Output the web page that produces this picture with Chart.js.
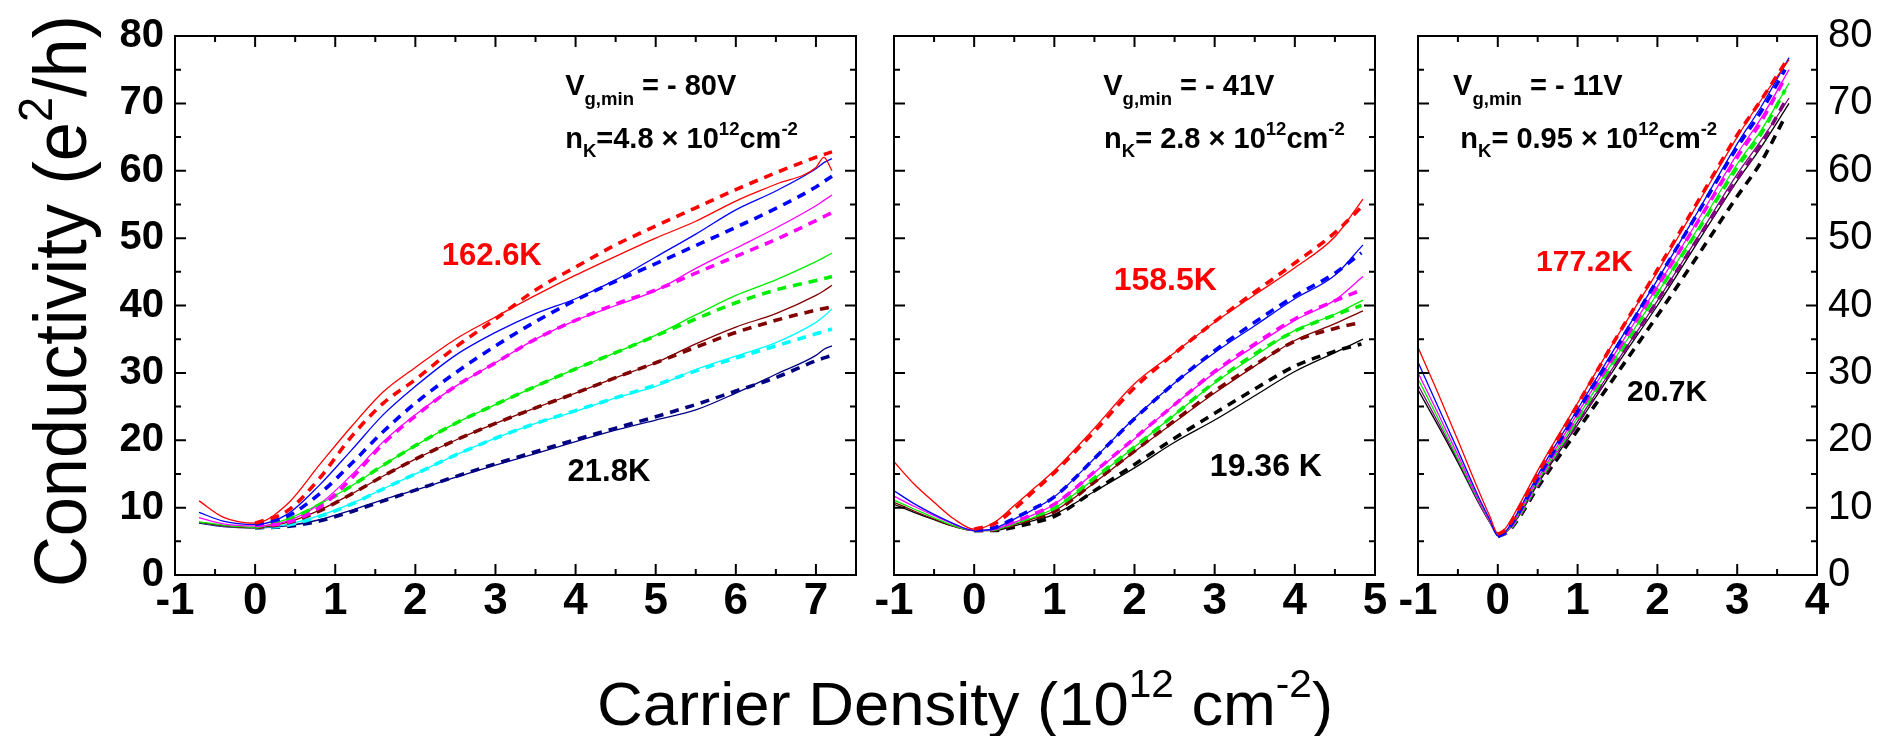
<!DOCTYPE html>
<html>
<head>
<meta charset="utf-8">
<script src="https://cdn.jsdelivr.net/npm/chart.js@4.4.1/dist/chart.umd.min.js"></script>
<style>
  html, body { margin: 0; background: #fff; overflow: hidden; }
  canvas { position: absolute; left: 0; top: 0; }
</style>
</head>
<body>
<canvas id="chart1" width="1892" height="736"></canvas>
<canvas id="chart2" width="1892" height="736"></canvas>
<canvas id="chart3" width="1892" height="736"></canvas>
<script>
// ---- panel 1 (Vg,min = -80V) ----
const xs1 = [-0.7, -0.4, 0, 0.4, 0.8, 1.2, 1.6, 2, 2.5, 3, 3.5, 4, 4.5, 5, 5.5, 6, 6.5, 7, 7.1, 7.2];
const xf1 = [0, 0.4, 0.8, 1.2, 1.6, 2, 2.5, 3, 3.5, 4, 4.5, 5, 5.5, 6, 6.5, 7, 7.2];
const red1 = [11.0, 8.6, 7.7, 10.5, 16.3, 22.0, 27.2, 30.8, 35.0, 38.3, 41.5, 44.5, 47.3, 50.0, 52.5, 55.5, 58.0, 60.5, 62.0, 60.0];
const red1Fit = [7.7, 9.5, 14.3, 20.5, 25.5, 29.0, 33.8, 38.0, 42.3, 45.7, 49.0, 51.8, 54.5, 57.2, 59.7, 62.0, 62.8];
const blue1 = [9.3, 8.0, 7.5, 9.0, 13.3, 18.5, 23.8, 28.0, 32.6, 36.0, 38.8, 41.0, 43.8, 47.2, 50.6, 54.2, 57.0, 60.3, 61.2, 61.8];
const blue1Fit = [7.5, 8.7, 12.0, 16.5, 21.3, 25.5, 30.0, 34.0, 37.6, 40.8, 43.6, 46.2, 48.9, 51.6, 54.4, 57.6, 59.2];
const mag1 = [8.5, 7.6, 7.3, 8.0, 10.5, 14.8, 19.8, 23.8, 28.0, 31.5, 35.0, 37.8, 40.0, 42.2, 45.5, 48.5, 51.5, 54.8, 55.6, 56.4];
const mag1Fit = [7.3, 7.8, 10.0, 14.3, 19.5, 23.6, 28.0, 31.5, 35.0, 37.8, 40.2, 42.3, 44.8, 47.3, 49.8, 52.6, 53.8];
const green1 = [7.9, 7.4, 7.1, 8.3, 10.5, 13.2, 16.3, 19.2, 22.5, 25.3, 28.0, 30.6, 33.0, 35.6, 38.6, 41.5, 43.8, 46.5, 47.1, 47.8];
const green1Fit = [7.1, 8.2, 10.4, 13.2, 16.3, 19.2, 22.5, 25.3, 28.0, 30.6, 33.0, 35.5, 38.0, 40.4, 42.3, 43.7, 44.3];
const brown1 = [7.8, 7.3, 7.0, 7.8, 9.6, 12.0, 14.7, 17.2, 20.0, 22.5, 24.8, 27.0, 29.3, 31.5, 34.3, 36.8, 38.8, 41.5, 42.2, 43.0];
const brown1Fit = [7.0, 7.7, 9.5, 12.0, 14.7, 17.2, 20.0, 22.5, 24.8, 27.0, 29.3, 31.5, 33.8, 36.0, 37.8, 39.3, 39.8];
const cyan1 = [7.8, 7.3, 7.0, 7.5, 8.8, 10.6, 12.8, 15.0, 17.8, 20.3, 22.5, 24.3, 26.3, 28.0, 30.5, 32.5, 34.5, 37.5, 38.4, 39.5];
const cyan1Fit = [7.0, 7.4, 8.7, 10.5, 12.8, 15.0, 17.8, 20.3, 22.5, 24.4, 26.3, 28.2, 30.3, 32.2, 34.0, 35.8, 36.5];
const navy1 = [7.7, 7.2, 7.0, 7.3, 8.2, 9.6, 11.2, 12.6, 14.5, 16.3, 18.0, 19.8, 21.5, 23.0, 24.5, 27.0, 29.8, 32.6, 33.5, 34.0];
const navy1Fit = [7.0, 7.2, 8.0, 9.4, 11.0, 12.6, 14.6, 16.5, 18.3, 20.1, 21.8, 23.5, 25.3, 27.3, 29.3, 31.8, 32.6];

// ---- panel 2 (Vg,min = -41V) ----
const xs2 = [-1, -0.75, -0.5, -0.25, 0, 0.25, 0.5, 0.75, 1, 1.5, 2, 2.5, 3, 3.5, 4, 4.5, 4.85];
const xf2 = [0, 0.25, 0.5, 0.75, 1, 1.5, 2, 2.5, 3, 3.5, 4, 4.5, 4.83];
const red2 = [16.8, 13.5, 10.8, 8.3, 6.8, 7.8, 10.3, 12.9, 15.5, 21.8, 28.4, 33.0, 37.5, 41.6, 45.6, 50.2, 55.8];
const red2Fit = [6.8, 7.6, 9.8, 12.5, 15.2, 21.3, 27.8, 32.9, 37.6, 42.0, 46.3, 50.8, 54.6];
const blue2 = [12.5, 10.6, 9.0, 7.6, 6.6, 6.9, 8.3, 9.8, 11.6, 17.3, 23.3, 28.5, 33.0, 37.0, 41.0, 44.5, 49.0];
const blue2Fit = [6.6, 7.0, 8.4, 9.9, 11.6, 17.3, 23.2, 28.5, 33.3, 37.5, 41.4, 44.8, 47.8];
const mag2 = [11.7, 10.2, 8.8, 7.5, 6.6, 6.8, 7.8, 9.0, 10.5, 15.2, 20.2, 25.3, 30.0, 34.0, 37.8, 40.8, 44.3];
const mag2Fit = [6.6, 6.9, 7.9, 9.1, 10.5, 15.3, 20.3, 25.3, 30.2, 34.3, 38.0, 40.7, 42.3];
const green2 = [11.1, 9.8, 8.5, 7.3, 6.6, 6.7, 7.6, 8.6, 9.9, 14.3, 19.0, 23.8, 28.5, 32.5, 36.3, 38.7, 40.8];
const green2Fit = [6.6, 6.8, 7.7, 8.7, 9.9, 14.4, 19.0, 23.8, 28.6, 32.8, 36.2, 38.6, 40.0];
const brown2 = [10.8, 9.5, 8.3, 7.2, 6.6, 6.7, 7.5, 8.4, 9.5, 13.7, 18.3, 22.7, 27.0, 31.0, 34.8, 37.3, 39.2];
const brown2Fit = [6.6, 6.7, 7.5, 8.4, 9.4, 13.8, 18.4, 22.9, 27.3, 31.2, 34.7, 36.6, 37.5];
const black2 = [10.5, 9.3, 8.2, 7.2, 6.6, 6.6, 7.3, 8.1, 9.0, 12.4, 15.9, 19.7, 23.0, 26.6, 30.2, 33.0, 35.0];
const black2Fit = [6.6, 6.6, 7.1, 7.8, 8.7, 12.5, 16.4, 20.3, 24.0, 27.6, 31.0, 33.2, 34.3];

// ---- panel 3 (Vg,min = -11V) ----
const xs3 = [-1, -0.75, -0.5, -0.25, -0.1, 0, 0.1, 0.25, 0.5, 1, 1.5, 2, 2.5, 3, 3.3, 3.65];
const xf3 = [0, 0.1, 0.25, 0.5, 1, 1.5, 2, 2.5, 3, 3.3, 3.6];
const red3 = [33.8, 27.0, 20.0, 12.8, 8.7, 6.2, 7.0, 10.0, 15.5, 25.5, 35.5, 45.0, 55.0, 65.0, 70.5, 76.5];
const red3Fit = [6.0, 6.8, 9.5, 15.0, 25.3, 35.5, 45.3, 55.3, 65.3, 70.5, 76.0];
const blue3 = [31.6, 25.0, 18.5, 11.8, 8.2, 5.8, 6.5, 9.3, 14.8, 24.6, 34.3, 43.8, 53.8, 64.0, 69.5, 76.8];
const blue3Fit = [5.7, 6.4, 9.0, 14.3, 24.3, 34.0, 43.8, 53.6, 63.5, 68.8, 75.0];
const mag3 = [30.0, 24.0, 17.8, 11.4, 8.0, 5.9, 6.4, 9.0, 14.3, 24.0, 33.5, 42.8, 52.5, 62.5, 67.8, 75.0];
const mag3Fit = [5.8, 6.3, 8.8, 14.0, 23.8, 33.3, 42.8, 52.3, 62.0, 67.3, 73.8];
const green3 = [29.1, 23.3, 17.3, 11.2, 7.9, 5.9, 6.3, 8.8, 14.0, 23.4, 32.7, 41.8, 51.3, 61.0, 66.0, 73.0];
const green3Fit = [5.8, 6.2, 8.6, 13.7, 23.2, 32.5, 41.8, 51.0, 60.5, 65.5, 72.0];
const purple3 = [28.2, 22.7, 17.0, 11.0, 7.8, 6.0, 6.3, 8.6, 13.7, 22.8, 31.8, 40.7, 50.0, 59.5, 64.5, 70.8];
const purple3Fit = [5.9, 6.2, 8.4, 13.4, 22.6, 31.7, 40.7, 49.8, 58.8, 64.0, 70.3];
const black3 = [27.5, 22.2, 16.7, 10.9, 7.8, 6.1, 6.4, 8.5, 13.5, 22.3, 31.3, 40.0, 49.3, 58.5, 63.5, 70.0];
const black3Fit = [6.0, 6.2, 8.2, 13.0, 21.5, 30.0, 38.5, 47.3, 56.2, 61.3, 68.0];

const colors1 = ['#ff0000', '#0000ff', '#ff00ff', '#00ee00', '#800000', '#00ffff', '#000080'];
const colors2 = ['#ff0000', '#0000ff', '#ff00ff', '#00ee00', '#800000', '#000000'];
const colors3 = ['#ff0000', '#0000ff', '#ff00ff', '#00ee00', '#800080', '#000000'];

const FONT = "'Liberation Sans', Arial, sans-serif";

// text with _{sub} and ^{sup} parts
function parseRich(str) {
  const segs = [];
  const re = /([_^])\{([^}]*)\}/g;
  let last = 0, m;
  while ((m = re.exec(str))) {
    if (m.index > last) segs.push({ t: str.slice(last, m.index) });
    segs.push({ t: m[2], sub: m[1] === '_', sup: m[1] === '^' });
    last = re.lastIndex;
  }
  if (last < str.length) segs.push({ t: str.slice(last) });
  return segs;
}

function drawRich(ctx, str, x, y, size, weight, color, fitWidth, angle) {
  const parts = parseRich(str).map(s => {
    const sz = (s.sub || s.sup) ? size * 0.64 : size;
    ctx.font = weight + ' ' + sz + 'px ' + FONT;
    return { t: s.t, sz: sz, w: ctx.measureText(s.t).width, dy: s.sup ? -size * 0.45 : (s.sub ? size * 0.33 : 0) };
  });
  const total = parts.reduce((a, p) => a + p.w, 0);
  ctx.save();
  ctx.translate(x, y);
  if (angle) ctx.rotate(angle);
  if (fitWidth) ctx.scale(fitWidth / total, 1);
  ctx.fillStyle = color;
  ctx.textAlign = 'left';
  ctx.textBaseline = 'alphabetic';
  let cx = 0;
  parts.forEach(p => {
    ctx.font = weight + ' ' + p.sz + 'px ' + FONT;
    ctx.fillText(p.t, cx, p.dy);
    cx += p.w;
  });
  ctx.restore();
}

// box frame with inward ticks on all four sides, notes and figure titles
const notesPlugin = {
  id: 'notes',
  afterDraw(chart, args, opts) {
    const { ctx, chartArea: a } = chart;
    const x = chart.scales.x, y = chart.scales.y;
    ctx.save();
    ctx.strokeStyle = '#000';
    ctx.lineWidth = 2;
    ctx.strokeRect(a.left, a.top, a.right - a.left, a.bottom - a.top);
    ctx.beginPath();
    for (let v = Math.ceil(x.min * 2) / 2; v <= x.max; v += 0.5) {
      const px = x.getPixelForValue(v);
      const len = Number.isInteger(v) ? 11 : 6;
      ctx.moveTo(px, a.bottom); ctx.lineTo(px, a.bottom - len);
      ctx.moveTo(px, a.top); ctx.lineTo(px, a.top + len);
    }
    for (let v = 0; v <= y.max; v += 5) {
      const py = y.getPixelForValue(v);
      const len = v % 10 === 0 ? 11 : 6;
      ctx.moveTo(a.left, py); ctx.lineTo(a.left + len, py);
      ctx.moveTo(a.right, py); ctx.lineTo(a.right - len, py);
    }
    ctx.stroke();
    ctx.restore();

    (opts.items || []).forEach(it => {
      drawRich(ctx, it.text, x.getPixelForValue(it.x), y.getPixelForValue(it.y), it.size, 'bold', it.color || '#000');
    });

    if (opts.titles) {
      drawRich(ctx, 'Conductivity (e^{2}/h)', 86, 587, 75, 'normal', '#000', 572, -Math.PI / 2);
      drawRich(ctx, 'Carrier Density (10^{12} cm^{-2})', 597, 725, 62, 'normal', '#000', 736);
    }
  }
};
Chart.register(notesPlugin);

function buildDatasets(xs, xf, meas, fits, colors) {
  const out = [];
  meas.forEach((ys, i) => {
    out.push({ data: xs.map((v, j) => ({ x: v, y: ys[j] })), borderColor: colors[i], borderWidth: 1.3, order: 1 });
    out.push({ data: xf.map((v, j) => ({ x: v, y: fits[i][j] })), borderColor: colors[i], borderWidth: 3.6, borderDash: [9, 7], order: 0 });
  });
  return out;
}

function makeChart(id, datasets, xMax, padding, yScale, items, titles) {
  return new Chart(document.getElementById(id), {
    type: 'line',
    data: { datasets: datasets },
    options: {
      responsive: false,
      animation: false,
      events: [],
      layout: { padding: padding },
      elements: { point: { radius: 0 }, line: { cubicInterpolationMode: 'monotone', fill: false } },
      plugins: { legend: { display: false }, tooltip: { enabled: false }, notes: { items: items, titles: titles } },
      scales: {
        x: {
          type: 'linear', min: -1, max: xMax,
          grid: { display: false, drawTicks: false }, border: { display: false },
          ticks: { stepSize: 1, includeBounds: false, padding: 0, autoSkip: false, maxRotation: 0, color: '#000',
                   font: { family: FONT, size: 44, weight: 'bold' } },
          afterFit: s => { s.height = 60; }
        },
        y: yScale
      }
    }
  });
}

function yAxis(position, weight, width) {
  return {
    type: 'linear', min: 0, max: 80, position: position,
    display: width > 0,
    grid: { display: false, drawTicks: false }, border: { display: false },
    ticks: { stepSize: 10, padding: 11, color: '#000', font: { family: FONT, size: 40, weight: weight } },
    afterFit: s => { s.width = width; }
  };
}

const chart1 = makeChart('chart1',
  buildDatasets(xs1, xf1, [red1, blue1, mag1, green1, brown1, cyan1, navy1],
    [red1Fit, blue1Fit, mag1Fit, green1Fit, brown1Fit, cyan1Fit, navy1Fit], colors1),
  7.5, { left: 95, right: 1036, top: 36, bottom: 101 }, yAxis('left', 'bold', 80),
  [
    { text: 'V_{g,min} = - 80V', x: 3.87, y: 71.2, size: 29 },
    { text: 'n_{K}=4.8 × 10^{12}cm^{-2}', x: 3.87, y: 63.4, size: 29 },
    { text: '162.6K', x: 2.33, y: 46.0, size: 31, color: '#ff0000' },
    { text: '21.8K', x: 3.9, y: 14.0, size: 31 }
  ], true);

const chart2 = makeChart('chart2',
  buildDatasets(xs2, xf2, [red2, blue2, mag2, green2, brown2, black2],
    [red2Fit, blue2Fit, mag2Fit, green2Fit, brown2Fit, black2Fit], colors2),
  5, { left: 894, right: 517, top: 36, bottom: 101 }, yAxis('left', 'bold', 0),
  [
    { text: 'V_{g,min} = - 41V', x: 1.61, y: 71.2, size: 29 },
    { text: 'n_{K}= 2.8 × 10^{12}cm^{-2}', x: 1.62, y: 63.4, size: 29 },
    { text: '158.5K', x: 1.74, y: 42.3, size: 32, color: '#ff0000' },
    { text: '19.36 K', x: 2.94, y: 14.7, size: 32 }
  ], false);

const chart3 = makeChart('chart3',
  buildDatasets(xs3, xf3, [red3, blue3, mag3, green3, purple3, black3],
    [red3Fit, blue3Fit, mag3Fit, green3Fit, purple3Fit, black3Fit], colors3),
  4, { left: 1418, right: 15, top: 36, bottom: 101 }, yAxis('right', 'normal', 60),
  [
    { text: 'V_{g,min} = - 11V', x: -0.56, y: 71.2, size: 29 },
    { text: 'n_{K}= 0.95 × 10^{12}cm^{-2}', x: -0.47, y: 63.4, size: 29 },
    { text: '177.2K', x: 0.48, y: 45.1, size: 30, color: '#ff0000' },
    { text: '20.7K', x: 1.62, y: 25.8, size: 30 }
  ], false);
</script>
</body>
</html>
